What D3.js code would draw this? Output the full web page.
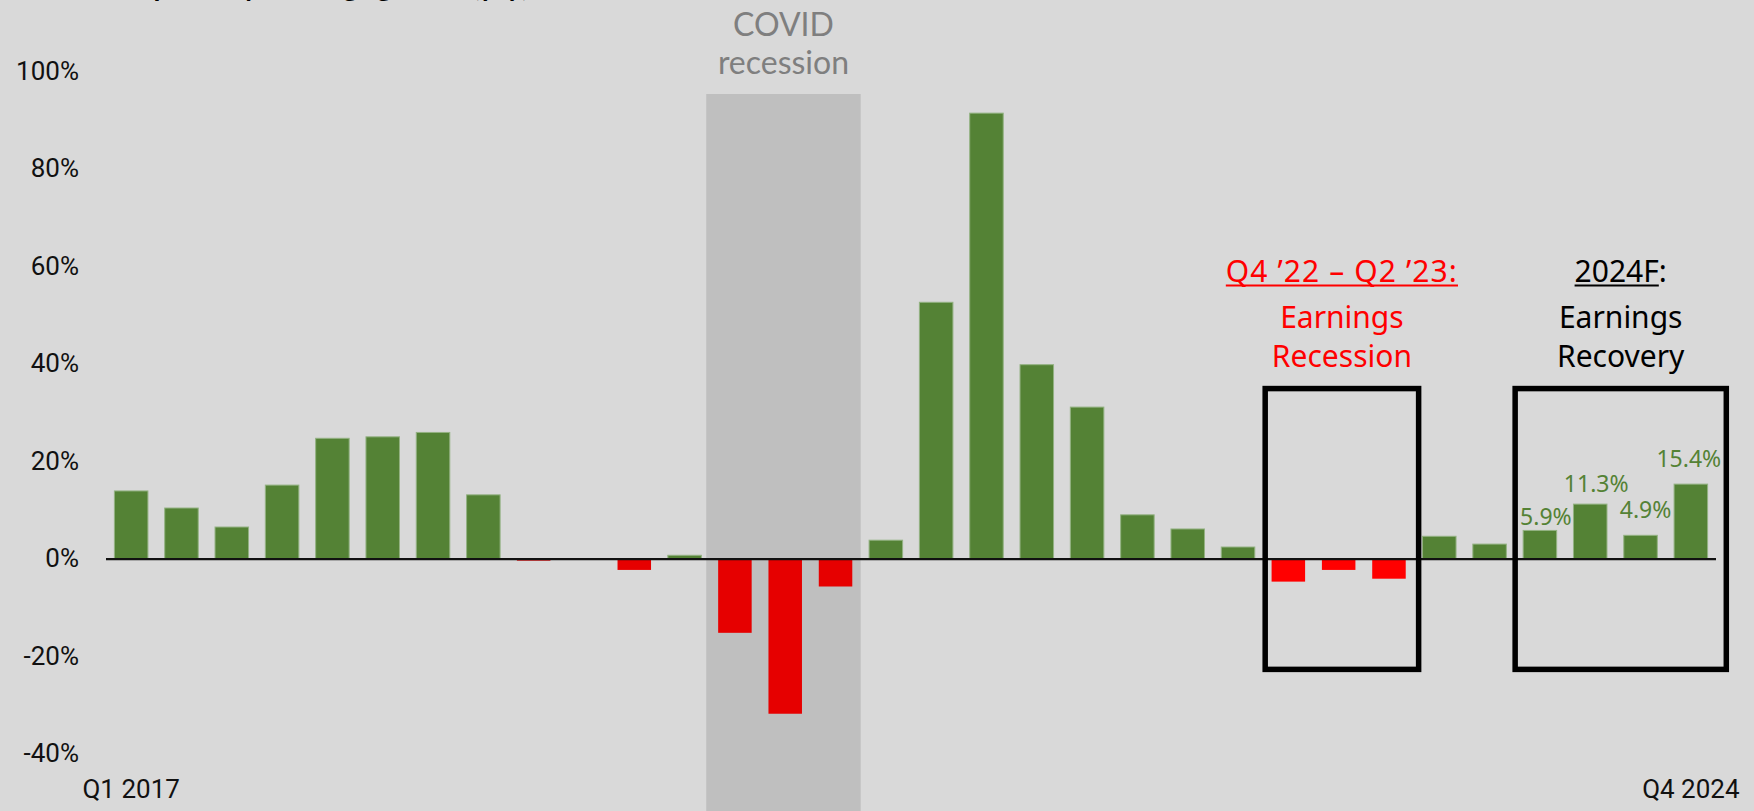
<!DOCTYPE html>
<html>
<head>
<meta charset="utf-8">
<script src="https://cdn.jsdelivr.net/npm/d3@7"></script>
<style>
  html, body { margin: 0; padding: 0; background: #D9D9D9; overflow: hidden; }
  svg { display: block; }
</style>
</head>
<body>
<svg id="chart" width="1754" height="811"></svg>
<script>
// ---------- DATA ----------
const categories = [
  "Q1 2017","Q2 2017","Q3 2017","Q4 2017",
  "Q1 2018","Q2 2018","Q3 2018","Q4 2018",
  "Q1 2019","Q2 2019","Q3 2019","Q4 2019",
  "Q1 2020","Q2 2020","Q3 2020","Q4 2020",
  "Q1 2021","Q2 2021","Q3 2021","Q4 2021",
  "Q1 2022","Q2 2022","Q3 2022","Q4 2022",
  "Q1 2023","Q2 2023","Q3 2023","Q4 2023",
  "Q1 2024","Q2 2024","Q3 2024","Q4 2024"
];
const growth = [
  14.0, 10.5, 6.6, 15.2,
  24.8, 25.1, 26.0, 13.2,
  -0.3, 0.0, -2.2, 0.8,
  -15.1, -31.7, -5.6, 3.9,
  52.7, 91.5, 39.9, 31.2,
  9.1, 6.2, 2.5, -4.6,
  -2.2, -4.0, 4.7, 3.1,
  5.9, 11.3, 4.9, 15.4
];
const yTicks = [-40, -20, 0, 20, 40, 60, 80, 100];
const edgeLabels = ["Q1 2017", "Q4 2024"];
const covidQuarters = ["Q1 2020", "Q2 2020", "Q3 2020"];
const recessionQuarters = ["Q4 2022", "Q1 2023", "Q2 2023"];
const forecastQuarters = ["Q1 2024", "Q2 2024", "Q3 2024", "Q4 2024"];
const boxRange = [35, -22.6]; // value extent of the annotation boxes
const titleText = "S&P 500 quarterly earnings growth (y/y)";
const covidText = ["COVID", "recession"];
const recessionText = ["Q4 \u201922 \u2013 Q2 \u201923:", "Earnings", "Recession"];
const recoveryText = ["2024F", ":", "Earnings", "Recovery"];

// ---------- SETUP ----------
const W = 1754, H = 811;
const svg = d3.select("#chart");
const GREEN = "#548235", RED_DARK = "#E60000", RED = "#FF0000";

svg.append("rect").attr("width", W).attr("height", H).attr("fill", "#D9D9D9");

const x = d3.scaleBand().domain(categories).range([106, 1716]).paddingInner(0.334).paddingOuter(0.167);
const y = d3.scaleLinear().domain([-40, 100]).range([754.2, 71.7]);
const step = x.step(), bw = x.bandwidth();
const gap = (step - bw) / 2;
const data = categories.map((c, i) => ({ c, v: growth[i] }));

// title (cropped at the top edge, as in the reference)
svg.append("text")
  .attr("x", 30).attr("y", -4)
  .attr("font-family", "Lato, sans-serif").attr("font-weight", 700).attr("font-size", 28)
  .attr("fill", "#000").text(titleText);

// COVID shaded band
const covidX0 = x(covidQuarters[0]) - gap - 3.5;
const covidX1 = x(covidQuarters[covidQuarters.length - 1]) + bw + gap;
svg.append("rect")
  .attr("x", covidX0).attr("y", 94)
  .attr("width", covidX1 - covidX0).attr("height", H - 94)
  .attr("fill", "#BFBFBF");
const covidCx = (covidX0 + covidX1) / 2;
svg.append("g").selectAll("text").data(covidText).join("text")
  .attr("x", covidCx).attr("y", (d, i) => 36 + i * 38)
  .attr("text-anchor", "middle")
  .attr("font-family", "Lato, sans-serif").attr("font-size", 32)
  .attr("fill", "#7F7F7F").text(d => d);

// Y axis
const yAxis = d3.axisLeft(y).tickValues(yTicks).tickSize(0).tickPadding(0).tickFormat(d => d + "%");
const gy = svg.append("g").attr("transform", "translate(79,0)").call(yAxis);
gy.select(".domain").remove();
gy.selectAll("text")
  .attr("dy", "0.29em")
  .attr("font-family", "Roboto, sans-serif").attr("font-size", 26).attr("fill", "#111");

// Bars
svg.append("g").selectAll("rect").data(data).join("rect")
  .attr("x", d => x(d.c))
  .attr("width", bw)
  .attr("y", d => y(Math.max(0, d.v)))
  .attr("height", d => Math.abs(y(d.v) - y(0)))
  .attr("fill", d => d.v >= 0 ? GREEN : (recessionQuarters.includes(d.c) ? RED : RED_DARK))
  .attr("stroke", d => d.v >= 0 ? "#93B282" : "none")
  .attr("stroke-width", 1);

// Zero line
svg.append("line")
  .attr("x1", x.range()[0]).attr("x2", x.range()[1])
  .attr("y1", y(0)).attr("y2", y(0))
  .attr("stroke", "#111").attr("stroke-width", 2.2);

// X edge labels
svg.append("g").selectAll("text").data(edgeLabels).join("text")
  .attr("x", d => x(d) + bw / 2).attr("y", 798)
  .attr("text-anchor", "middle")
  .attr("font-family", "Roboto, sans-serif").attr("font-size", 26).attr("fill", "#111")
  .text(d => d);

// Annotation boxes
function box(quarters, padL, padR) {
  const x0 = x(quarters[0]) - gap + padL;
  const x1 = x(quarters[quarters.length - 1]) + bw + gap + padR;
  svg.append("rect")
    .attr("x", x0).attr("y", y(boxRange[0]))
    .attr("width", x1 - x0).attr("height", y(boxRange[1]) - y(boxRange[0]))
    .attr("fill", "none").attr("stroke", "#000").attr("stroke-width", 5.5);
  return { cx: (x0 + x1) / 2, top: y(boxRange[0]) };
}
const recBox = box(recessionQuarters, 2, 4.5);
const recovBox = box(forecastQuarters, 0.4, 10.3);

const annFont = "'Noto Sans', sans-serif";
// Recession text
const t1 = svg.append("text")
  .attr("x", recBox.cx).attr("y", recBox.top - 107)
  .attr("text-anchor", "middle").attr("font-family", annFont).attr("font-size", 30)
  .attr("letter-spacing", 1.1)
  .attr("fill", RED).text(recessionText[0]);
{
  const bb = t1.node().getBBox();
  svg.append("line").attr("x1", bb.x).attr("x2", bb.x + bb.width)
    .attr("y1", recBox.top - 103).attr("y2", recBox.top - 103)
    .attr("stroke", RED).attr("stroke-width", 2);
}
svg.append("g").selectAll("text").data(recessionText.slice(1)).join("text")
  .attr("x", recBox.cx).attr("y", (d, i) => recBox.top - 61 + i * 39)
  .attr("text-anchor", "middle").attr("font-family", annFont).attr("font-size", 30)
  .attr("fill", RED).text(d => d);

// Recovery text
const t2 = svg.append("text")
  .attr("x", recovBox.cx).attr("y", recovBox.top - 107)
  .attr("text-anchor", "middle").attr("font-family", annFont).attr("font-size", 30)
  .attr("fill", "#000");
t2.append("tspan").text(recoveryText[0]);
t2.append("tspan").text(recoveryText[1]);
{
  const bb = t2.node().getBBox();
  const wU = t2.node().getSubStringLength(0, recoveryText[0].length);
  svg.append("line").attr("x1", bb.x).attr("x2", bb.x + wU)
    .attr("y1", recovBox.top - 103).attr("y2", recovBox.top - 103)
    .attr("stroke", "#000").attr("stroke-width", 2);
}
svg.append("g").selectAll("text").data(recoveryText.slice(2)).join("text")
  .attr("x", recovBox.cx).attr("y", (d, i) => recovBox.top - 61 + i * 39)
  .attr("text-anchor", "middle").attr("font-family", annFont).attr("font-size", 30)
  .attr("fill", "#000").text(d => d);

// Forecast value labels
const labelDx = [6, 6, 5, -2];
const labelDy = [5.5, 12.6, 17.6, 17];
svg.append("g").selectAll("text")
  .data(data.filter(d => forecastQuarters.includes(d.c)))
  .join("text")
  .attr("x", (d, i) => x(d.c) + bw / 2 + labelDx[i])
  .attr("y", (d, i) => y(d.v) - labelDy[i])
  .attr("text-anchor", "middle")
  .attr("font-family", "'Noto Sans', sans-serif").attr("font-size", 23)
  .attr("fill", GREEN)
  .text(d => d3.format(".1f")(d.v) + "%");
</script>
</body>
</html>
